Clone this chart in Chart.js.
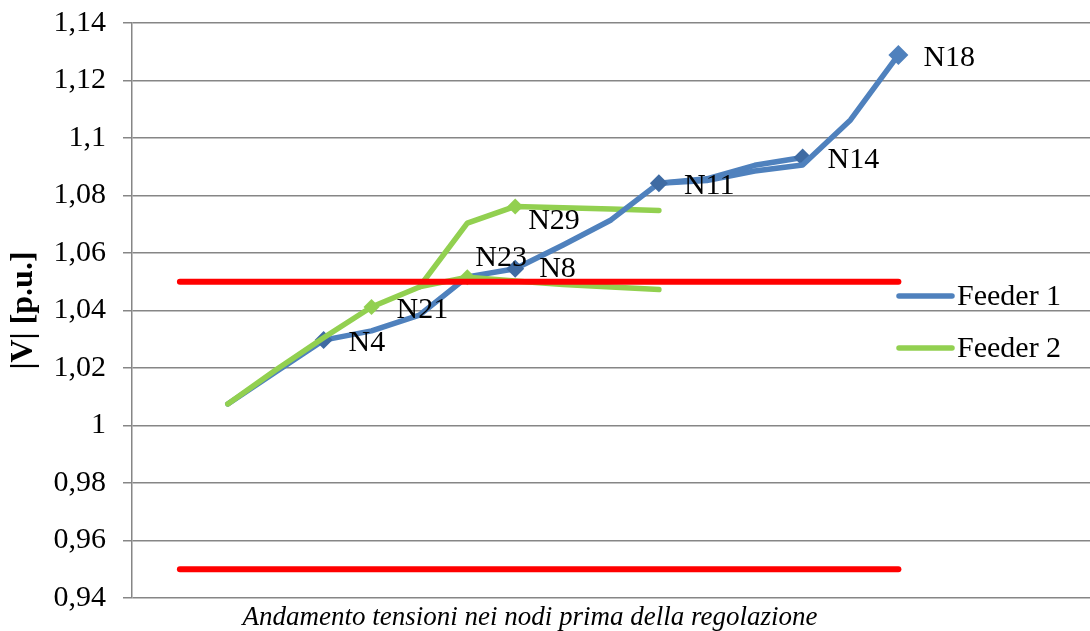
<!DOCTYPE html>
<html>
<head>
<meta charset="utf-8">
<script src="https://cdn.jsdelivr.net/npm/chart.js@4.4.0/dist/chart.umd.min.js"></script>
<style>
  html, body { margin: 0; padding: 0; background: #ffffff; }
  #wrap { width: 1090px; height: 631px; position: relative; }
</style>
</head>
<body>
<div id="wrap"><canvas id="grafico" width="1090" height="631"></canvas></div>
<script>
// Posizioni lungo l'asse orizzontale (non mostrate)
const posizioni = ['0','1','2','3','4','5','6','7','8','9','10','11','12','13','14','15','16','17','18','19','20'];

// Tensioni |V| [p.u.] per posizione (null = nessun punto)
const feeder1 =      [null, null, 1.0075, 1.0186, 1.0297, 1.0329, 1.0384, 1.0517, 1.0545, 1.0628, 1.0715, 1.0843, 1.0852, 1.0885, 1.0906, 1.1063, 1.1289, null, null, null, null];
const feeder1Ramo =  [null, null, null, null, null, null, null, null, null, null, null, 1.0843, 1.0858, 1.0905, 1.0932, null, null, null, null, null, null];
const feeder2 =      [null, null, 1.0075, 1.0193, 1.0305, 1.0412, 1.0482, 1.0516, 1.0503, 1.0490, 1.0482, 1.0473, null, null, null, null, null, null, null, null, null];
const feeder2Ramo =  [null, null, null, null, null, null, 1.0482, 1.0704, 1.0762, 1.0757, 1.0753, 1.0748, null, null, null, null, null, null, null, null, null];
const limiteSup =    [null, 1.05, 1.05, 1.05, 1.05, 1.05, 1.05, 1.05, 1.05, 1.05, 1.05, 1.05, 1.05, 1.05, 1.05, 1.05, 1.05, null, null, null, null];
const limiteInf =    [null, 0.95, 0.95, 0.95, 0.95, 0.95, 0.95, 0.95, 0.95, 0.95, 0.95, 0.95, 0.95, 0.95, 0.95, 0.95, 0.95, null, null, null, null];

// Nomi dei nodi evidenziati
const nodi1 =      [null, null, null, null, 'N4', null, null, null, 'N8', null, null, 'N11', null, null, null, null, 'N18', null, null, null, null];
const nodi1Ramo =  [null, null, null, null, null, null, null, null, null, null, null, null, null, null, 'N14', null, null, null, null, null, null];
const nodi2 =      [null, null, null, null, null, 'N21', null, 'N23', null, null, null, null, null, null, null, null, null, null, null, null, null];
const nodi2Ramo =  [null, null, null, null, null, null, null, null, 'N29', null, null, null, null, null, null, null, null, null, null, null, null];

// Etichette asse verticale
const yTickLabels = ['0,94', '0,96', '0,98', '1', '1,02', '1,04', '1,06', '1,08', '1,1', '1,12', '1,14'];

const legendaVoci = ['Feeder 1', 'Feeder 2'];

const BLU = '#4F81BD';
const BLU_SCURO = '#3F6BA3';
const VERDE = '#92D050';
const ROSSO = '#FF0000';
const SERIF = "'Liberation Serif', 'Times New Roman', serif";

// Spostamento delle etichette rispetto al marcatore
const spostamenti = { N23: [8, -19], N29: [13, 15], N8: [24, 0] };
const spostamentoBase = [25, 3];

function serieNodo(label, dati, nodi, colore, coloreMarker, ordine, raggio, grande) {
  return {
    label: label,
    data: dati,
    nodi: nodi,
    borderColor: colore,
    backgroundColor: colore,
    borderWidth: 5.5,
    tension: 0,
    spanGaps: false,
    borderCapStyle: 'round',
    borderJoinStyle: 'round',
    pointStyle: 'rectRot',
    pointRadius: (c) => nodi[c.dataIndex] ? (nodi[c.dataIndex] === grande ? raggio + 1 : raggio) : 0,
    pointHoverRadius: (c) => nodi[c.dataIndex] ? raggio : 0,
    pointBackgroundColor: (c) => nodi[c.dataIndex] === grande ? colore : coloreMarker,
    pointBorderWidth: 0,
    order: ordine
  };
}

const pluginEtichette = {
  id: 'etichetteNodi',
  afterDatasetsDraw(chart) {
    const ctx = chart.ctx;
    ctx.save();
    ctx.font = '30px ' + SERIF;
    ctx.fillStyle = '#000000';
    ctx.textAlign = 'left';
    ctx.textBaseline = 'middle';
    chart.data.datasets.forEach((ds, i) => {
      if (!ds.nodi) return;
      const meta = chart.getDatasetMeta(i);
      ds.nodi.forEach((n, j) => {
        if (!n) return;
        const el = meta.data[j];
        const off = spostamenti[n] || spostamentoBase;
        ctx.fillText(n, el.x + off[0], el.y + off[1]);
      });
    });
    ctx.restore();
  },
  afterDraw(chart) {
    const ctx = chart.ctx;
    const area = chart.chartArea;
    ctx.save();
    // Legenda
    const coloriLegenda = [BLU, VERDE];
    const yLeg = [296, 348];
    legendaVoci.forEach((t, i) => {
      ctx.strokeStyle = coloriLegenda[i];
      ctx.lineWidth = 5.5;
      ctx.lineCap = 'round';
      ctx.beginPath();
      ctx.moveTo(899, yLeg[i]);
      ctx.lineTo(952, yLeg[i]);
      ctx.stroke();
      ctx.font = '30px ' + SERIF;
      ctx.fillStyle = '#000000';
      ctx.textAlign = 'left';
      ctx.textBaseline = 'middle';
      ctx.fillText(t, 957, yLeg[i] + 1);
    });
    // Titolo asse verticale
    ctx.translate(24, (area.top + area.bottom) / 2);
    ctx.rotate(-Math.PI / 2);
    ctx.font = 'bold 32px ' + SERIF;
    ctx.textAlign = 'center';
    ctx.textBaseline = 'middle';
    ctx.fillText('|V| [p.u.]', 0, 0);
    ctx.restore();
    // Didascalia
    ctx.save();
    ctx.font = 'italic 27px ' + SERIF;
    ctx.fillStyle = '#000000';
    ctx.textAlign = 'center';
    ctx.textBaseline = 'middle';
    ctx.fillText('Andamento tensioni nei nodi prima della regolazione', 530, 618);
    ctx.restore();
  }
};

new Chart(document.getElementById('grafico'), {
  type: 'line',
  data: {
    labels: posizioni,
    datasets: [
      { label: 'Limite superiore', data: limiteSup, borderColor: ROSSO, backgroundColor: ROSSO, borderWidth: 6,
        borderCapStyle: 'round', pointRadius: 0, pointHoverRadius: 0, order: 0 },
      { label: 'Limite inferiore', data: limiteInf, borderColor: ROSSO, backgroundColor: ROSSO, borderWidth: 6,
        borderCapStyle: 'round', pointRadius: 0, pointHoverRadius: 0, order: 0 },
      serieNodo('Feeder 2', feeder2, nodi2, VERDE, VERDE, 1, 8, null),
      serieNodo('Feeder 1', feeder1, nodi1, BLU, BLU_SCURO, 2, 9, 'N18'),
      serieNodo('Feeder 1', feeder1Ramo, nodi1Ramo, BLU, BLU_SCURO, 3, 9, null),
      serieNodo('Feeder 2', feeder2Ramo, nodi2Ramo, VERDE, VERDE, 4, 8, null)
    ]
  },
  options: {
    responsive: false,
    animation: false,
    devicePixelRatio: 1,
    layout: { padding: { top: 23, bottom: 33, left: 0, right: -2 } },
    plugins: {
      legend: { display: false },
      tooltip: { enabled: false },
      title: { display: false }
    },
    scales: {
      x: {
        type: 'category',
        display: false,
        offset: false
      },
      y: {
        min: 0.94,
        max: 1.14,
        afterFit(scale) {
          scale.width = 132;
          scale.paddingTop = 0;
          scale.paddingBottom = 0;
        },
        ticks: {
          stepSize: 0.02,
          padding: 17,
          color: '#000000',
          font: { family: SERIF, size: 30 },
          callback: (v, i) => yTickLabels[i]
        },
        grid: {
          color: '#868686',
          lineWidth: 1.5,
          tickLength: 9,
          drawTicks: true
        },
        border: { color: '#868686', width: 1.5 }
      }
    }
  },
  plugins: [pluginEtichette]
});
</script>
</body>
</html>
